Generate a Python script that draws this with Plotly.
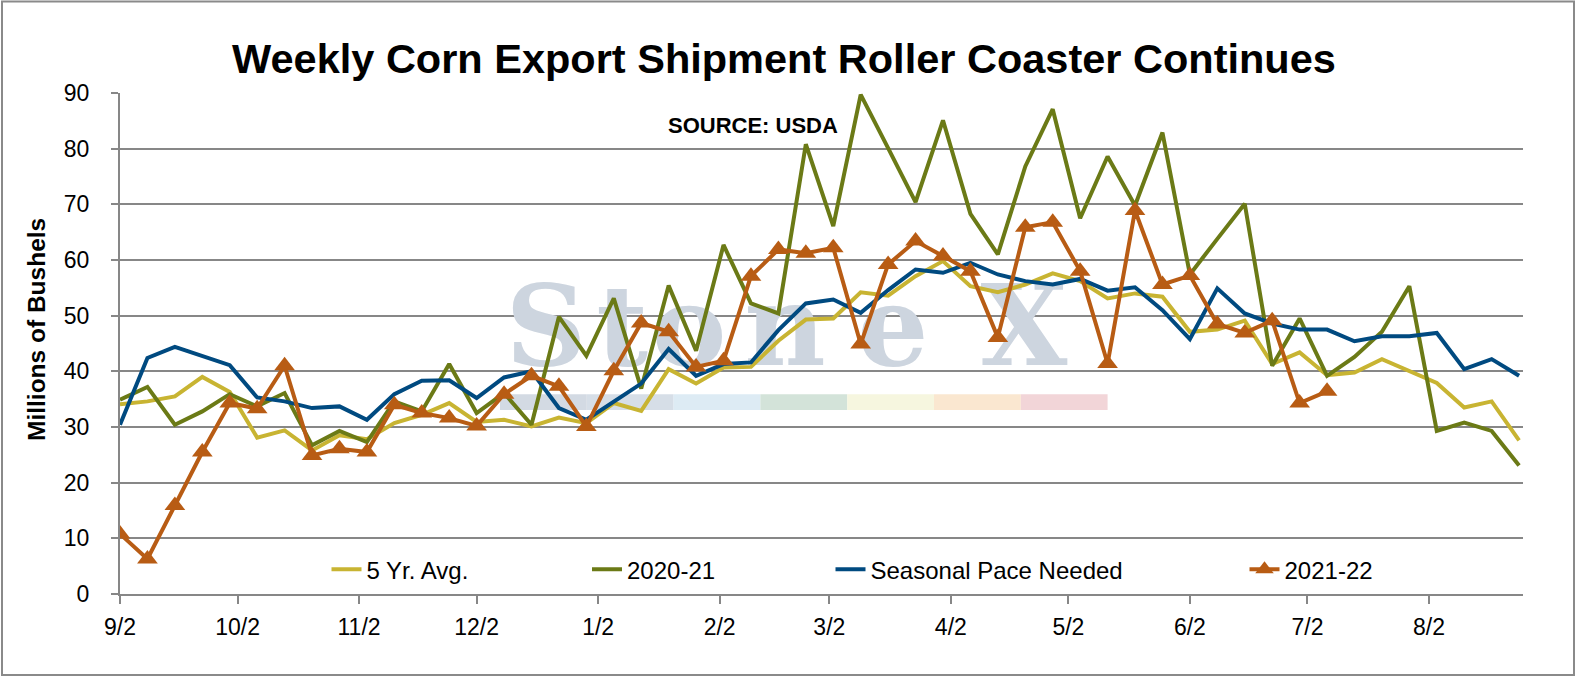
import plotly.graph_objects as go
import pandas as pd

# ---------------- data ----------------
weeks = [
    "2021-09-02", "2021-09-09", "2021-09-16", "2021-09-23", "2021-09-30",
    "2021-10-07", "2021-10-14", "2021-10-21", "2021-10-28", "2021-11-04",
    "2021-11-11", "2021-11-18", "2021-11-25", "2021-12-02", "2021-12-09",
    "2021-12-16", "2021-12-23", "2021-12-30", "2022-01-06", "2022-01-13",
    "2022-01-20", "2022-01-27", "2022-02-03", "2022-02-10", "2022-02-17",
    "2022-02-24", "2022-03-03", "2022-03-10", "2022-03-17", "2022-03-24",
    "2022-03-31", "2022-04-07", "2022-04-14", "2022-04-21", "2022-04-28",
    "2022-05-05", "2022-05-12", "2022-05-19", "2022-05-26", "2022-06-02",
    "2022-06-09", "2022-06-16", "2022-06-23", "2022-06-30", "2022-07-07",
    "2022-07-14", "2022-07-21", "2022-07-28", "2022-08-04", "2022-08-11",
    "2022-08-18", "2022-08-25",
]

avg_5yr = [
    34.1, 34.6, 35.5, 39.0, 36.3, 28.1, 29.4, 25.8, 28.5, 27.8, 30.7, 32.2, 34.3,
    30.9, 31.3, 30.1, 31.7, 30.7, 34.3, 32.9, 40.4, 37.8, 40.7, 40.8, 45.5, 49.3,
    49.5, 54.2, 53.6, 57.1, 59.8, 55.3, 54.2, 55.6, 57.6, 56.2, 53.1, 54.0, 53.4,
    47.1, 47.5, 49.1, 41.3, 43.4, 39.3, 39.8, 42.2, 40.0, 37.9, 33.5, 34.6, 27.6,
]

y2020_21 = [
    34.9, 37.2, 30.4, 32.8, 35.9, 33.7, 36.1, 26.7, 29.3, 27.3, 34.6, 32.8, 41.3,
    32.5, 36.1, 30.4, 49.8, 42.8, 53.1, 36.9, 55.4, 43.7, 62.7, 52.2, 50.4, 80.8,
    66.1, 89.7, 80.1, 70.4, 85.1, 68.3, 61.0, 76.8, 87.1, 67.5, 78.6, 69.8, 82.9,
    57.4, 63.8, 70.1, 41.0, 49.5, 39.2, 42.6, 47.1, 55.3, 29.3, 30.8, 29.3, 23.1,
]

seasonal_pace = [
    30.4, 42.4, 44.4, 42.8, 41.1, 35.3, 34.6, 33.4, 33.7, 31.3, 35.9, 38.3, 38.4,
    35.2, 38.9, 40.0, 33.4, 31.3, 34.6, 37.8, 44.0, 39.2, 41.3, 41.6, 47.4, 52.2,
    52.9, 50.5, 54.6, 58.3, 57.7, 59.5, 57.4, 56.2, 55.6, 56.6, 54.5, 55.1, 51.0,
    45.8, 54.9, 50.4, 48.6, 47.5, 47.5, 45.4, 46.3, 46.3, 46.9, 40.4, 42.2, 39.2,
]

y2021_22 = [
    10.8, 6.3, 15.9, 25.5, 34.3, 33.3, 41.0, 24.9, 26.1, 25.5, 34.0, 32.5, 31.6,
    30.2, 35.9, 39.2, 37.3, 30.1, 40.1, 48.7, 47.1, 40.8, 41.9, 57.1, 61.9, 61.2,
    62.2, 44.9, 59.2, 63.4, 60.7, 58.0, 46.1, 65.9, 66.8, 58.0, 41.4, 68.9, 55.6,
    57.2, 48.5, 46.9, 49.1, 34.3, 36.4,
]

tick_dates = [
    "2021-09-02", "2021-10-02", "2021-11-02", "2021-12-02", "2022-01-02",
    "2022-02-02", "2022-03-02", "2022-04-02", "2022-05-02", "2022-06-02",
    "2022-07-02", "2022-08-02",
]
tick_labels = ["9/2", "10/2", "11/2", "12/2", "1/2", "2/2", "3/2", "4/2",
               "5/2", "6/2", "7/2", "8/2"]

series_names = ["5 Yr. Avg.", "2020-21", "Seasonal Pace Needed", "2021-22"]
series_colors = ["#C8B432", "#6B7A16", "#004A80", "#B85C14"]

title_text = "Weekly Corn Export Shipment Roller Coaster Continues"
y_title = "Millions of Bushels"
source_text = "SOURCE: USDA"
watermark_letters = ["S", "t", "o", "n", "e", "X"]
band_colors = ["#D3DAE3", "#D6DEE7", "#DDEBF4", "#D3E3D9", "#F6F6DF", "#FAE7D0", "#F2D5D8"]

# ---------------- layout geometry (pixels) ----------------
W, H = 1577, 677
L, R, T, B = 120, 1523, 93, 594
FONT = "Liberation Sans, Arial, sans-serif"
GRID = "#878787"


def px(x):
    return (x - L) / (R - L)


def py(y):
    return (B - y) / (B - T)


x_start = pd.Timestamp("2021-09-02")
x_end = pd.Timestamp("2022-08-26")
day_px = (R - L) / (x_end - x_start).days


def date_at(xpix):
    return x_start + pd.Timedelta(days=(xpix - L) / day_px)


def val_at(ypix):
    return (B - ypix) / (B - T) * 90


fig = go.Figure()

# watermark (drawn first so the data lines are above it)
wm_centers = [546, 622, 689, 785, 893, 1024]
fig.add_trace(go.Scatter(
    x=[date_at(c) for c in wm_centers],
    y=[val_at(337)] * len(wm_centers),
    mode="text",
    text=["<b>" + s + "</b>" for s in watermark_letters],
    textposition="middle center",
    textfont=dict(family="DejaVu Serif, serif", size=112, color="#CDD5DF"),
    hoverinfo="skip",
    showlegend=False,
))

legend_ids = ["legend", "legend2", "legend3", "legend4"]
fig.add_trace(go.Scatter(x=weeks, y=avg_5yr, name=series_names[0], mode="lines",
                         line=dict(color=series_colors[0], width=4),
                         legend=legend_ids[0]))
fig.add_trace(go.Scatter(x=weeks, y=y2020_21, name=series_names[1], mode="lines",
                         line=dict(color=series_colors[1], width=4),
                         legend=legend_ids[1]))
fig.add_trace(go.Scatter(x=weeks, y=seasonal_pace, name=series_names[2], mode="lines",
                         line=dict(color=series_colors[2], width=4),
                         legend=legend_ids[2]))
fig.add_trace(go.Scatter(x=weeks[:len(y2021_22)], y=y2021_22, name=series_names[3],
                         mode="lines+markers",
                         line=dict(color=series_colors[3], width=4),
                         marker=dict(symbol="triangle-up", size=18, color=series_colors[3]),
                         legend=legend_ids[3]))

shapes = []
# colour band of the watermark
band_x0, band_w = 500, 86.8
for i, c in enumerate(band_colors):
    shapes.append(dict(type="rect", xref="paper", yref="paper", layer="below",
                       x0=px(band_x0 + i * band_w), x1=px(band_x0 + (i + 1) * band_w),
                       y0=py(410), y1=py(394.3), fillcolor=c, line=dict(width=0)))
# outer chart border
shapes.append(dict(type="rect", xref="paper", yref="paper", layer="above",
                   x0=px(2), x1=px(1574), y0=py(675), y1=py(1.5),
                   line=dict(color="#8A8A8A", width=2), fillcolor="rgba(0,0,0,0)"))

legend_text_starts = [366.5, 627, 870.5, 1284.5]
legend_layouts = {}
for lid, xs in zip(legend_ids, legend_text_starts):
    legend_layouts[lid] = dict(
        x=px(xs - 40), xanchor="left", y=py(569.7), yanchor="middle",
        orientation="h", bgcolor="rgba(0,0,0,0)", borderwidth=0,
        font=dict(family=FONT, size=24, color="#000000"),
        itemwidth=30,
    )

fig.update_layout(
    width=W, height=H,
    margin=dict(l=L, r=W - R, t=T, b=H - B, pad=0),
    paper_bgcolor="white", plot_bgcolor="white",
    font=dict(family=FONT, color="#000000"),
    title=dict(text="<b>" + title_text + "</b>", x=784 / W, xref="container",
               xanchor="center", y=1 - 58 / H, yref="container", yanchor="middle",
               font=dict(family=FONT, size=41.5, color="#000000")),
    xaxis=dict(type="date", range=[x_start, x_end], tickvals=tick_dates,
               ticktext=tick_labels, showgrid=False, zeroline=False,
               showline=True, linecolor=GRID, linewidth=2,
               ticks="outside", ticklen=8, tickwidth=2, tickcolor=GRID,
               ticklabelstandoff=3,
               tickfont=dict(family=FONT, size=23, color="#000000")),
    yaxis=dict(range=[0, 90], dtick=10, tick0=0, showgrid=True, gridcolor=GRID,
               gridwidth=2, zeroline=False, showline=True, linecolor=GRID,
               linewidth=2, ticks="outside", ticklen=7, tickwidth=2, tickcolor=GRID,
               ticklabelstandoff=17,
               tickfont=dict(family=FONT, size=23, color="#000000")),
    shapes=shapes,
    annotations=[
        dict(text="<b>" + source_text + "</b>", xref="paper", yref="paper",
             x=px(752.5), y=py(125.8), xanchor="center", yanchor="middle",
             showarrow=False, font=dict(family=FONT, size=22, color="#000000")),
        dict(text="<b>" + y_title + "</b>", xref="paper", yref="paper",
             x=px(36), y=py(330), xanchor="center", yanchor="middle",
             textangle=-90, showarrow=False,
             font=dict(family=FONT, size=24.5, color="#000000")),
    ],
    **legend_layouts,
)

fig.write_html(
    "out.html",
    config={"displayModeBar": False},
    post_script="document.body.style.margin='0';document.body.style.overflow='hidden';",
)
